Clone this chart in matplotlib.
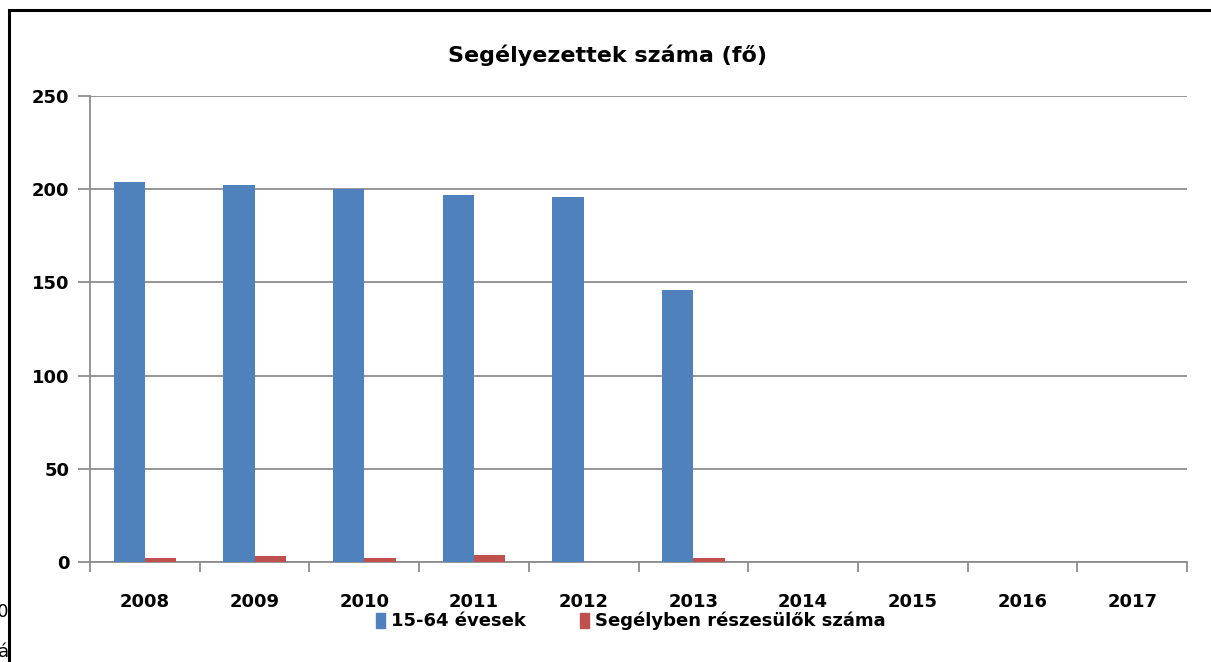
import numpy as np
import matplotlib.pyplot as plt
from matplotlib.patches import Rectangle, Patch

# adatok
years = ['2008', '2009', '2010', '2011', '2012', '2013', '2014', '2015', '2016', '2017']
evesek = [204, 202, 200, 197, 196, 146, np.nan, np.nan, np.nan, np.nan]
segelyben = [2, 3, 2, 4, np.nan, 2, np.nan, np.nan, np.nan, np.nan]
series_names = ['15-64 évesek', 'Segélyben részesülők száma']
colors = ['#4F81BD', '#C0504D']

fig = plt.figure(figsize=(12.11, 6.62), dpi=100)
ax = fig.add_axes([90 / 1211, 1 - 562 / 662, 1097 / 1211, 466 / 662])

x = np.arange(len(years))
w = 1 / 3.5
ax.bar(x - w / 2, evesek, w, color=colors[0], zorder=3)
ax.bar(x + w / 2, segelyben, w, color=colors[1], zorder=3)

ax.set_xlim(-0.5, len(years) - 0.5)
ax.set_ylim(0, 250)
ax.set_yticks(range(0, 251, 50))
ax.yaxis.grid(True, color='#8c8c8c', linewidth=1.3, zorder=0)

# x tengely: osztások a kategóriák határán
ax.set_xticks(x)
ax.set_xticklabels(years)
ax.set_xticks(np.arange(-0.5, len(years), 1), minor=True)
ax.tick_params(axis='x', which='major', length=0, pad=22)
ax.tick_params(axis='x', which='minor', length=7, width=1.3, color='#8c8c8c')
ax.tick_params(axis='y', length=9, width=1.3, color='#8c8c8c', pad=6)
for lab in ax.get_xticklabels() + ax.get_yticklabels():
    lab.set_fontweight('bold')
    lab.set_fontsize(13)

for s in ['top', 'right']:
    ax.spines[s].set_visible(False)
for s in ['left', 'bottom']:
    ax.spines[s].set_color('#8c8c8c')
    ax.spines[s].set_linewidth(1.3)

fig.text(608 / 1211, 1 - 55 / 662, 'Segélyezettek száma (fő)', ha='center', va='center',
         fontsize=16, fontweight='bold')

handles = [Patch(color=c) for c in colors]
fig.legend(handles, series_names, loc='center right', bbox_to_anchor=(886 / 1211, 1 - 621 / 662),
           ncol=2, frameon=False, handlelength=0.5, handleheight=0.9, columnspacing=3.0,
           handletextpad=0.35, borderpad=0.0, borderaxespad=0.0,
           prop={'weight': 'bold', 'size': 13})

# keret (a kép jobb és alsó szélén túlnyúlik)
fig.patches.append(Rectangle((8.5 / 1211, -0.2), 1.5, 1.2 - 9.5 / 662,
                             transform=fig.transFigure, fill=False,
                             edgecolor='black', linewidth=2.2))

# a háttérben levágott szöveg maradéka
fig.text(9 / 1211, 1 - 612 / 662, '00', ha='right', va='center', fontsize=13)
fig.text(9 / 1211, 1 - 652 / 662, 'á', ha='right', va='center', fontsize=13)

fig.savefig('out.png', dpi=100)
